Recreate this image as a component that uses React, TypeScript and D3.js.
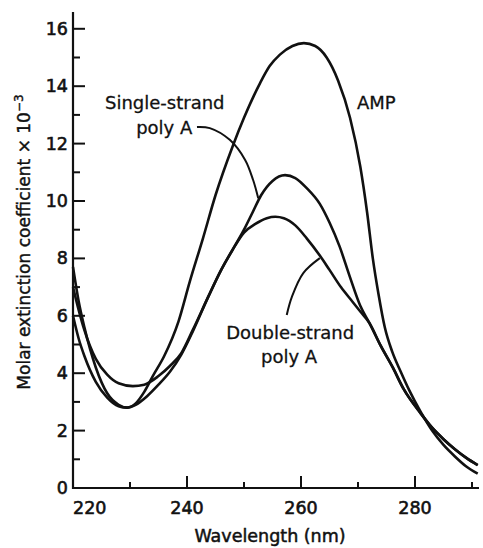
import React from "react";
import * as d3 from "d3";

// ---- data ----
const ampWl = [220, 221, 222, 224, 226, 228, 229.5, 231, 232.5, 234, 236, 238.5, 240.5, 242.8, 245, 248, 250, 252.8, 254.5, 256.3, 258.5, 260.5, 262.5, 264.5, 266.5, 268.6, 270.4, 271.6, 272.6, 273.6, 274.7, 276, 277.5, 279, 281, 283, 285, 287, 289, 291];
const ampVal = [7.7, 6.5, 5.6, 4.2, 3.3, 2.9, 2.8, 2.95, 3.35, 3.9, 4.6, 5.8, 7.2, 8.7, 10.2, 11.9, 12.9, 14.1, 14.7, 15.1, 15.4, 15.5, 15.4, 15.0, 14.2, 12.9, 11.2, 9.6, 8.0, 6.75, 5.6, 4.75, 4.05, 3.4, 2.65, 2.0, 1.5, 1.1, 0.75, 0.5];

const singleWl = [220, 221, 222, 224, 226, 228, 230.5, 232.5, 235, 237, 239, 241, 243.7, 246, 248, 250, 251.5, 253, 255, 257.2, 259, 261, 263.3, 265, 266.8, 268.5, 270.4, 272, 274, 276.1, 278, 281, 283, 285, 287, 289, 291];
const singleVal = [7.0, 6.2, 5.5, 4.5, 3.95, 3.65, 3.55, 3.6, 3.9, 4.25, 4.7, 5.5, 6.65, 7.6, 8.3, 9.0, 9.6, 10.2, 10.7, 10.9, 10.8, 10.45, 9.9, 9.25, 8.4, 7.4, 6.35, 5.75, 4.95, 4.2, 3.45, 2.6, 2.1, 1.7, 1.35, 1.05, 0.8];

const doubleWl = [220, 221, 222, 224, 226, 228, 229.5, 231, 233, 235, 237, 239, 241, 243.7, 246, 248, 250, 252, 254, 255.5, 257, 259, 261, 263.3, 265, 267, 269, 270.4, 272, 274, 276.1, 278, 281, 283, 285, 287, 289, 291];
const doubleVal = [6.0, 5.2, 4.6, 3.7, 3.15, 2.85, 2.8, 2.9, 3.2, 3.6, 4.05, 4.65, 5.45, 6.65, 7.6, 8.3, 8.9, 9.2, 9.4, 9.45, 9.4, 9.15, 8.7, 8.1, 7.6, 7.0, 6.5, 6.15, 5.75, 4.95, 4.2, 3.45, 2.6, 2.1, 1.7, 1.35, 1.05, 0.8];

const xTicksMajor = [240, 260, 280];
const xTicksMinor = [230, 250, 270, 290];
const xTickLabels = ["220", "240", "260", "280"];
const xTickLabelValues = [220, 240, 260, 280];
const yTicksMajor = [0, 2, 4, 6, 8, 10, 12, 14, 16];
const yTicksMinor = [1, 3, 5, 7, 9, 11, 13, 15];

// leader lines (wavelength, value)
const singleLeaderWl = [241.75, 244.0, 247.5, 250.2, 251.6, 252.5];
const singleLeaderVal = [12.58, 12.54, 12.13, 11.43, 10.73, 10.1];
const doubleLeaderWl = [257.5, 258.4, 260.4, 263.3];
const doubleLeaderVal = [6.03, 6.66, 7.49, 8.01];

const labelTexts = ["Single-strand", "poly A", "AMP", "Double-strand", "poly A"];
const labelWl = [236.1, 236.0, 273.2, 258.1, 257.9];
const labelVal = [13.2, 12.33, 13.2, 5.19, 4.36];

const FONT = "DejaVu Sans, Verdana, sans-serif";

export default function App() {
  const W = 483, H = 548;
  const x = d3.scaleLinear().domain([220, 290]).range([73, 472]);
  const y = d3.scaleLinear().domain([0, 16]).range([488, 28.8]);

  const line = d3
    .line<[number, number]>()
    .x((d) => x(d[0]))
    .y((d) => y(d[1]))
    .curve(d3.curveMonotoneX);

  const leaderLine = d3
    .line<[number, number]>()
    .x((d) => x(d[0]))
    .y((d) => y(d[1]))
    .curve(d3.curveCatmullRom.alpha(0.5));

  const zip = (a: number[], b: number[]) => a.map((v, i) => [v, b[i]] as [number, number]);

  const series = [zip(ampWl, ampVal), zip(singleWl, singleVal), zip(doubleWl, doubleVal)];
  const leaders = [zip(singleLeaderWl, singleLeaderVal), zip(doubleLeaderWl, doubleLeaderVal)];

  const x0 = x(220);
  const yBase = y(0);

  return (
    <svg width={W} height={H} style={{ position: "absolute", left: 0, top: 0, background: "#fff" }}>
      <rect width={W} height={H} fill="#fff" />
      {/* axes */}
      <line x1={x0} y1={12} x2={x0} y2={yBase + 1} stroke="#111" strokeWidth={2.2} />
      <line x1={x0 - 1} y1={yBase} x2={479} y2={yBase} stroke="#111" strokeWidth={2.2} />
      {yTicksMajor.map((t) => (
        <line key={"ym" + t} x1={x0} x2={x0 + 12} y1={y(t)} y2={y(t)} stroke="#111" strokeWidth={2} />
      ))}
      {yTicksMinor.map((t) => (
        <line key={"yn" + t} x1={x0} x2={x0 + 7} y1={y(t)} y2={y(t)} stroke="#111" strokeWidth={2} />
      ))}
      {xTicksMajor.map((t) => (
        <line key={"xm" + t} x1={x(t)} x2={x(t)} y1={yBase} y2={yBase - 12} stroke="#111" strokeWidth={2} />
      ))}
      {xTicksMinor.map((t) => (
        <line key={"xn" + t} x1={x(t)} x2={x(t)} y1={yBase} y2={yBase - 6} stroke="#111" strokeWidth={2} />
      ))}
      {yTicksMajor.map((t) => (
        <text key={"yl" + t} x={x0 - 5} y={y(t) + 6} textAnchor="end" fontFamily={FONT} fontSize={17.5} fill="#111" stroke="#111" strokeWidth={0.6}>
          {t}
        </text>
      ))}
      {xTickLabelValues.map((t, i) => (
        <text key={"xl" + t} x={x(t)} y={514} textAnchor={i === 0 ? "start" : "middle"} fontFamily={FONT} fontSize={17.5} fill="#111" stroke="#111" strokeWidth={0.6}>
          {xTickLabels[i]}
        </text>
      ))}
      <text x={270} y={542} textAnchor="middle" fontFamily={FONT} fontSize={17.5} fill="#111" stroke="#111" strokeWidth={0.5}>
        Wavelength (nm)
      </text>
      <text transform={`translate(30,242) rotate(-90)`} textAnchor="middle" fontFamily={FONT} fontSize={17} fill="#111" stroke="#111" strokeWidth={0.4}>
        Molar extinction coefficient × 10
        <tspan fontSize={12} dy={-7}>−3</tspan>
      </text>
      {/* curves */}
      {series.map((s, i) => (
        <path key={"s" + i} d={line(s) || ""} fill="none" stroke="#111" strokeWidth={2.6} strokeLinejoin="round" />
      ))}
      {leaders.map((s, i) => (
        <path key={"l" + i} d={leaderLine(s) || ""} fill="none" stroke="#111" strokeWidth={2} />
      ))}
      {labelTexts.map((t, i) => (
        <text key={"lab" + i} x={x(labelWl[i])} y={y(labelVal[i])} textAnchor="middle" fontFamily={FONT} fontSize={18} fill="#111" stroke="#111" strokeWidth={0.3}>
          {t}
        </text>
      ))}
    </svg>
  );
}
